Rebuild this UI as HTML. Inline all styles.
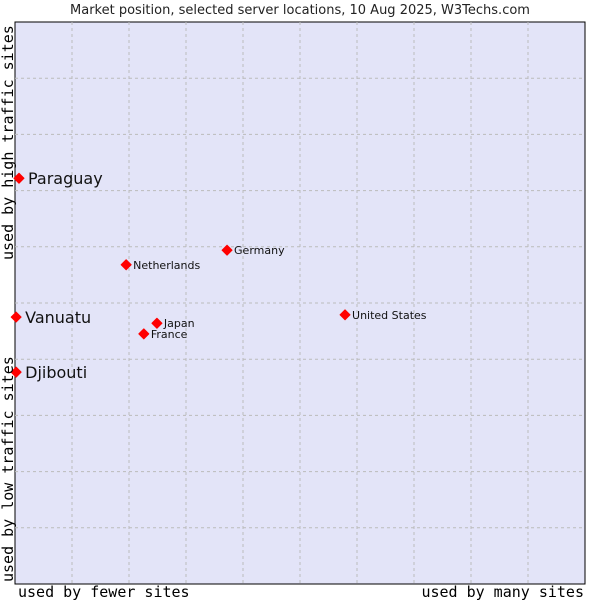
<!DOCTYPE html>
<html><head><meta charset="utf-8"><style>
body{margin:0;background:#fff;width:600px;height:600px;overflow:hidden}
svg text{font-family:"DejaVu Sans","Liberation Sans",sans-serif}
.mono{font-family:'DejaVu Sans Mono','Liberation Mono',monospace}
</style></head><body>
<svg id="c" width="600" height="600">
<text x="300" y="14" text-anchor="middle" font-size="13" fill="#222">Market position, selected server locations, 10 Aug 2025, W3Techs.com</text>
<rect x="15" y="22" width="570" height="562" fill="#e3e4f8" stroke="#000" stroke-width="1"/>
<g id="grid"></g>
<g id="pts"></g>
<text class="mono" x="18" y="597" font-size="15" fill="#000" style="font-family:'DejaVu Sans Mono','Liberation Mono',monospace">used by fewer sites</text>
<text class="mono" x="584" y="597" text-anchor="end" font-size="15" fill="#000" style="font-family:'DejaVu Sans Mono','Liberation Mono',monospace">used by many sites</text>
<text transform="translate(13,582) rotate(-90)" font-size="15" fill="#000" style="font-family:'DejaVu Sans Mono','Liberation Mono',monospace">used by low traffic sites</text>
<text transform="translate(13,260) rotate(-90)" font-size="15" fill="#000" style="font-family:'DejaVu Sans Mono','Liberation Mono',monospace">used by high traffic sites</text>
</svg>
<script>
const names=["Paraguay","Vanuatu","Djibouti","Netherlands","Germany","Japan","France","United States"];
const xs=[0.7,0.2,0.2,19.5,37.2,24.9,22.6,57.9];
const ys=[72.2,47.5,37.7,56.8,59.4,46.4,44.5,47.9];
const big=[true,true,true,false,false,false,false,false];
const X=v=>15+v*5.7, Y=v=>584-v*5.62;
const NS="http://www.w3.org/2000/svg";
const g=document.getElementById('grid'), p=document.getElementById('pts');
for(let i=1;i<10;i++){
  const lx=document.createElementNS(NS,'line');
  
  
  lx.setAttribute('x1',X(i*10));lx.setAttribute('x2',X(i*10));lx.setAttribute('y1',22);lx.setAttribute('y2',584);
  lx.setAttribute('stroke','#bbb');lx.setAttribute('stroke-dasharray','3,3');g.appendChild(lx);
  const ly=document.createElementNS(NS,'line');
  
  
  ly.setAttribute('y1',Y(i*10));ly.setAttribute('y2',Y(i*10));ly.setAttribute('x1',15);ly.setAttribute('x2',585);
  ly.setAttribute('stroke','#bbb');ly.setAttribute('stroke-dasharray','3,3');g.appendChild(ly);
}
names.forEach((n,i)=>{
  const cx=X(xs[i]),cy=Y(ys[i]);
  const d=document.createElementNS(NS,'polygon');
  
  
  d.setAttribute('points',`${cx},${cy-5} ${cx+5},${cy} ${cx},${cy+5} ${cx-5},${cy}`);
  d.setAttribute('fill','#f00');d.setAttribute('stroke','#f00');d.setAttribute('stroke-linejoin','round');p.appendChild(d);
  const t=document.createElementNS(NS,'text');
  
  
  t.setAttribute('x',cx+(big[i]?9:7));t.setAttribute('y',cy+(big[i]?6:4));
  t.setAttribute('font-size',big[i]?16:11);t.setAttribute('fill','#111');
  t.textContent=n;p.appendChild(t);
});
</script>
</body></html>
